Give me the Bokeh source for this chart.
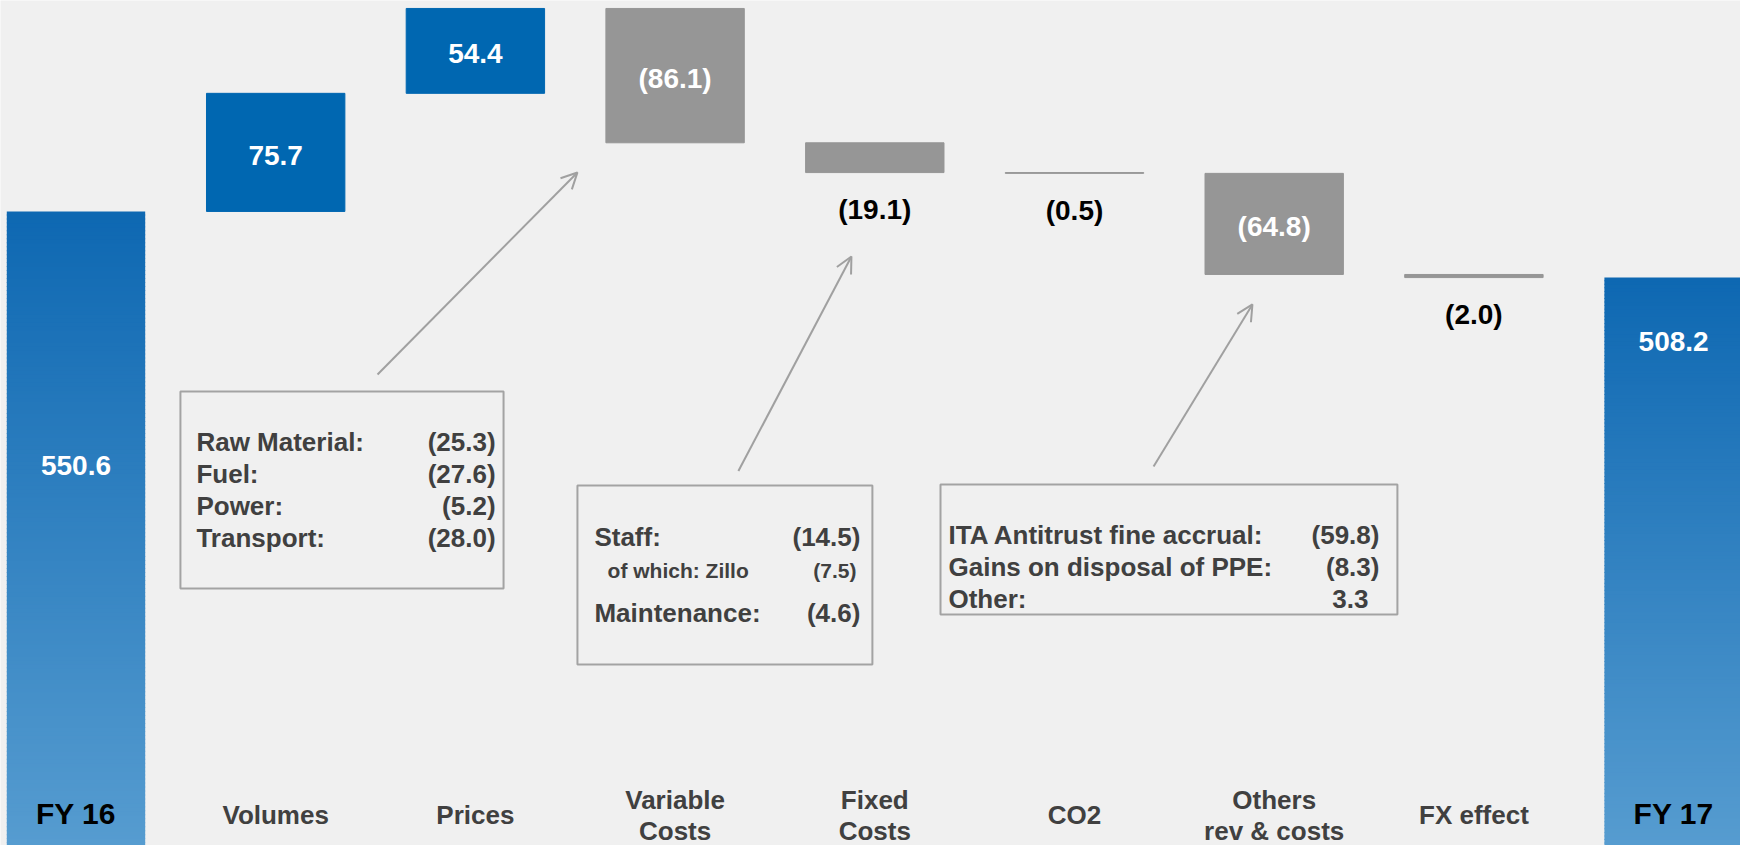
import numpy as np
from bokeh.plotting import figure
from bokeh.models import Range1d, ColumnDataSource, Arrow, OpenHead, BoxAnnotation
from bokeh.core.properties import value
from bokeh.embed import file_html
from bokeh.resources import INLINE

# ---------------- data ----------------
categories = ["FY 16", "Volumes", "Prices", "Variable\nCosts", "Fixed\nCosts",
              "CO2", "Others\nrev & costs", "FX effect", "FY 17"]
start_total = 550.6
deltas = [75.7, 54.4, -86.1, -19.1, -0.5, -64.8, -2.0]
end_total = 508.2

box1_items = ["Raw Material:", "Fuel:", "Power:", "Transport:"]
box1_values = ["(25.3)", "(27.6)", "(5.2)", "(28.0)"]
box2_items = ["Staff:", "of which:  Zillo", "Maintenance:"]
box2_values = ["(14.5)", "(7.5)", "(4.6)"]
box3_items = ["ITA Antitrust fine accrual:", "Gains on disposal of PPE:", "Other:"]
box3_values = ["(59.8)", "(8.3)", "3.3"]

# ---------------- helpers ----------------
def fmt(v):
    return "(%.1f)" % abs(v) if v < 0 else "%.1f" % v

BLUE = "#0067b1"
GREY = "#969696"
BG = "#f0f0f0"
TXT = "#404040"
FONT = value("Liberation Sans")

Y0, Y1 = 144.2, 685.8
p = figure(width=1740, height=845, x_range=Range1d(-0.378, 8.335), y_range=Range1d(Y0, Y1),
           output_backend="svg", toolbar_location=None, min_border=0,
           x_axis_location=None, y_axis_location=None,
           background_fill_color=BG, border_fill_color=BG, outline_line_color=None)
p.grid.visible = False

W = 0.693
n = len(categories)
xs = list(range(n))

# waterfall for drivers
cum = start_total
d_x, d_lo, d_hi, d_col = [], [], [], []
for i, d in enumerate(deltas):
    lo, hi = min(cum, cum + d), max(cum, cum + d)
    d_x.append(i + 1); d_lo.append(lo); d_hi.append(hi)
    d_col.append(BLUE if d > 0 else GREY)
    cum += d

src = ColumnDataSource(dict(x=d_x, bottom=d_lo, top=d_hi, color=d_col))
p.vbar(x="x", width=W, bottom="bottom", top="top", fill_color="color",
       line_color="color", line_width=1, source=src)

# total bars with vertical gradient
def grad_bar(xc, val):
    N = 160
    edges = np.linspace(Y0 - 1, val, N + 1)
    c_top = np.array([14, 104, 178])
    c_bot = np.array([86, 156, 208])
    cols = []
    for k in range(N):
        t = k / (N - 1)  # 0 bottom .. 1 top
        c = c_bot + (c_top - c_bot) * t
        cols.append("#%02x%02x%02x" % tuple(int(round(v)) for v in c))
    tops = [min(tv + 0.6, val) for tv in edges[1:]]
    p.quad(left=[xc - W / 2] * N, right=[xc + W / 2] * N, bottom=list(edges[:-1]),
           top=tops, fill_color=cols, line_color=None)

grad_bar(0, start_total)
grad_bar(n - 1, end_total)

# value labels on driver bars
in_x, in_y, in_t = [], [], []
out_x, out_y, out_t = [], [], []
for i, d in enumerate(deltas):
    if abs(d) >= 25:
        in_x.append(d_x[i]); in_y.append((d_lo[i] + d_hi[i]) / 2); in_t.append(fmt(d))
    else:
        out_x.append(d_x[i]); out_y.append(d_lo[i]); out_t.append(fmt(d))

p.text(x=in_x, y=in_y, text=in_t, text_color="white", text_font=FONT, text_font_style="bold",
       text_font_size="28px", text_align="center", text_baseline="middle", y_offset=3)
p.text(x=out_x, y=out_y, text=out_t, text_color="black", text_font=FONT, text_font_style="bold",
       text_font_size="28px", text_align="center", text_baseline="middle", y_offset=37)

# totals value labels
p.text(x=[0, n - 1], y=[388.0, 467.0], text=[fmt(start_total), fmt(end_total)],
       text_color="white", text_font=FONT, text_font_style="bold", text_font_size="28px",
       text_align="center", text_baseline="middle")

# category labels
p.text(x=[0, n - 1], y=[164.5, 164.5], text=[categories[0], categories[-1]],
       text_color="black", text_font=FONT, text_font_style="bold", text_font_size="30px",
       text_align="center", text_baseline="middle")
lab_x, lab_y, lab_t = [], [], []
LINE = 20.0  # one text line, in value units
for i in range(1, n - 1):
    parts = categories[i].split("\n")
    mid = 163.6
    for k, part in enumerate(parts):
        lab_x.append(i)
        lab_y.append(mid + (len(parts) - 1) * LINE / 2 - k * LINE)
        lab_t.append(part)
p.text(x=lab_x, y=lab_y, text=lab_t,
       text_color=TXT, text_font=FONT, text_font_style="bold", text_font_size="26px",
       text_align="center", text_baseline="middle")

# annotation boxes
for (l, r, t, b) in [(0.523, 2.141, 435.2, 308.9), (2.511, 3.988, 374.9, 260.2),
                     (4.329, 6.617, 375.6, 292.3)]:
    p.add_layout(BoxAnnotation(left=l, right=r, top=t, bottom=b, fill_alpha=0,
                               line_color="#a3a3a3", line_alpha=1.0, line_width=2))

def rows(items, vals, ys, sizes, xls, xrs):
    for it, v, y, s, a, b in zip(items, vals, ys, sizes, xls, xrs):
        p.text(x=[a], y=[y], text=[it], text_color=TXT, text_font=FONT, text_font_style="bold",
               text_font_size=s, text_align="left", text_baseline="middle")
        p.text(x=[b], y=[y], text=[v], text_color=TXT, text_font=FONT, text_font_style="bold",
               text_font_size=s, text_align="right", text_baseline="middle")

rows(box1_items, box1_values, [403.1, 382.0, 361.5, 341.0], ["26px"] * 4,
     [0.603] * 4, [2.101] * 4)
rows(box2_items, box2_values, [342.2, 320.5, 293.5], ["26px", "21px", "26px"],
     [2.596, 2.662, 2.596], [3.928, 3.908, 3.928])
rows(box3_items, box3_values, [343.5, 322.4, 302.5], ["26px"] * 3,
     [4.369] * 3, [6.527, 6.527, 6.472])

# arrows
for (xs0, ys0, xe, ye) in [(1.510, 446.1, 2.511, 575.6), (3.317, 384.2, 3.883, 521.7),
                           (5.396, 387.1, 5.891, 491.0)]:
    p.add_layout(Arrow(end=OpenHead(size=16, line_color="#a0a0a0", line_width=2),
                       x_start=xs0, y_start=ys0, x_end=xe, y_end=ye,
                       line_color="#a0a0a0", line_width=2))

html = file_html(p, INLINE)
open("out.html", "w").write(html)
